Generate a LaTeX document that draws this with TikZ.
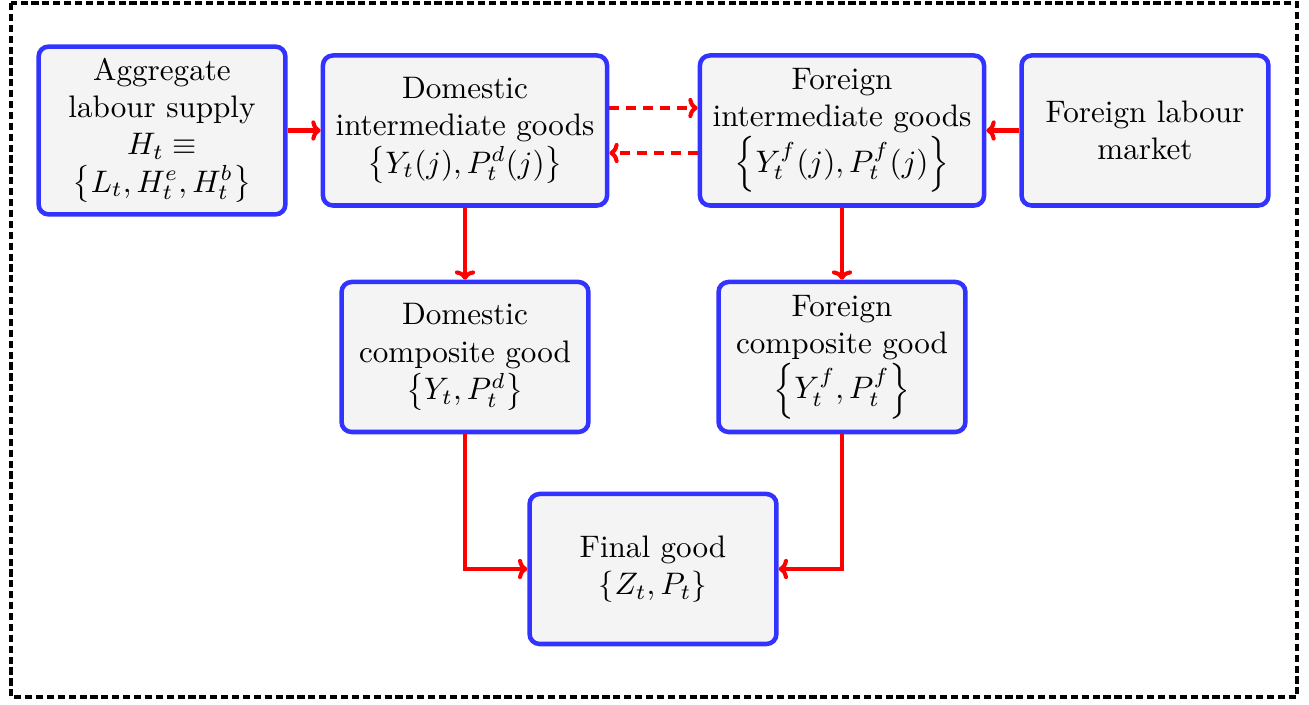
\documentclass[tikz,border=0pt]{standalone}
\usepackage{amsmath}
\usetikzlibrary{arrows.meta}
\definecolor{boxblue}{RGB}{51,51,255}
\definecolor{boxfill}{RGB}{244,244,244}
\tikzset{
  blk/.style={draw=boxblue, line width=1.45pt, fill=boxfill, rounded corners=3.2pt,
    align=center, inner sep=0pt, font=\normalsize},
  narrow/.style={blk, minimum width=79.3pt, minimum height=48.2pt},
  wide/.style={blk, minimum width=91.3pt, minimum height=48.2pt},
  flow/.style={draw=red, line width=1.3pt, -{To[length=3pt,width=6.5pt]}},
  dflow/.style={flow, dash pattern=on 3.2pt off 2.2pt},
}
\begin{document}
\begin{tikzpicture}[x=0.3213pt,y=-0.3213pt]
\useasboundingbox (0,0) rectangle (1309,705);
\draw[line width=1.4pt, dash pattern=on 2.3pt off 1.2pt] (11,3) rectangle (1297,697);

\node[narrow, minimum height=53.9pt] (agg) at (162,130.5)
  {Aggregate\\labour supply\\$H_t\equiv$\\$\left\{L_t,H_t^e,H_t^b\right\}$};
\node[wide] (dint) at (465,130.5)
  {Domestic\\intermediate goods\\$\left\{Y_t(j),P_t^d(j)\right\}$};
\node[wide] (fint) at (842,130.5)
  {Foreign\\intermediate goods\\$\left\{Y_t^f(j),P_t^f(j)\right\}$};
\node[narrow] (flab) at (1145,130.5) {Foreign labour\\market};
\node[narrow] (dcom) at (465,357)
  {Domestic\\composite good\\$\left\{Y_t,P_t^d\right\}$};
\node[narrow] (fcom) at (842,357)
  {Foreign\\composite good\\$\left\{Y_t^f,P_t^f\right\}$};
\node[narrow] (fin) at (653,569) {Final good\\$\{Z_t,P_t\}$};

\draw[flow] (agg.east) -- (dint.west);
\draw[flow] (flab.west) -- (fint.east);
\draw[dflow] (dint.east |- 0,108) -- (fint.west |- 0,108);
\draw[dflow] (fint.west |- 0,153) -- (dint.east |- 0,153);
\draw[flow] (dint.south) -- (dcom.north);
\draw[flow] (fint.south) -- (fcom.north);
\draw[flow] (dcom.south) |- (fin.west);
\draw[flow] (fcom.south) |- (fin.east);
\end{tikzpicture}
\end{document}
